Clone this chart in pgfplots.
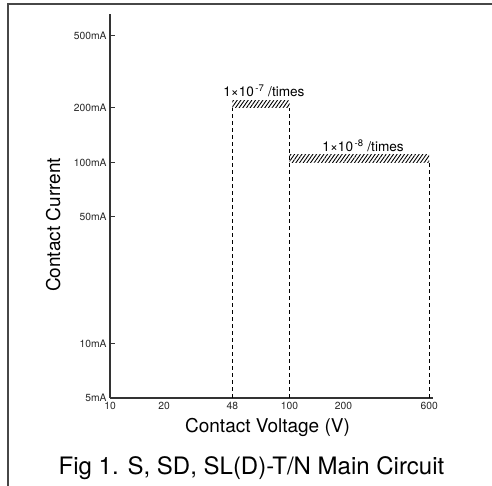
\documentclass[border=0pt]{standalone}
\usepackage{fontspec}
\setmainfont{TeX Gyre Heros}
\usepackage{pgfplots}
\pgfplotsset{compat=1.18}
\usetikzlibrary{patterns.meta}
\begin{document}
\begin{tikzpicture}[x=1pt,y=1pt]
\useasboundingbox (0,0) rectangle (492,486);
\draw[line width=2pt, black!72] (8,0) -- (8,482) -- (492,482);
\begin{axis}[at={(110pt,88pt)}, anchor=south west, scale only axis,
  width=323pt, height=384pt,
  xmode=log, ymode=log, xmin=10, xmax=630, ymin=5, ymax=660,
  axis x line=bottom, axis y line=left,
  axis line style={-, draw=black!80, line width=1.1pt},
  xtick={10,20,48,100,200,600}, xticklabels={10,20,48,100,200,600},
  ytick={5,10,50,100,200,500},
  yticklabels={5mA,10mA,50mA,100mA,200mA,500mA},
  xtick style={draw=none},
  ytick style={draw=black!80, line width=1pt},
  tick align=inside, major tick length=5pt,
  minor tick style={draw=none},
  tick label style={font=\fontsize{10.3}{12}\selectfont, text=black!85},
  xticklabel style={yshift=-0.5pt},
  clip=false]
% hatched bands
\addplot[draw=none, pattern={Lines[angle=55, distance=3pt, line width=0.9pt]}]
  coordinates {(48,200) (100,200) (100,220) (48,220) (48,200)};
\addplot[draw=none, pattern={Lines[angle=55, distance=3pt, line width=0.9pt]}]
  coordinates {(100,100) (600,100) (600,110) (100,110) (100,100)};
% dashed limits
\addplot[black, line width=0.9pt, dash pattern=on 4pt off 3pt] coordinates {(48,5) (48,200)};
\addplot[black, line width=0.9pt, dash pattern=on 4pt off 3pt] coordinates {(100,5) (100,200)};
\addplot[black, line width=0.9pt, dash pattern=on 4pt off 3pt] coordinates {(600,5) (600,100)};
\node[anchor=base, yshift=3.5pt, font=\fontsize{13.6}{15}\selectfont] at (axis cs:72,220) {1×10\textsuperscript{\,-7} /times};
\node[anchor=base, yshift=3.5pt, font=\fontsize{13.6}{15}\selectfont] at (axis cs:257,110) {1×10\textsuperscript{\,-8} /times};
\end{axis}
\node[anchor=base, font=\fontsize{19}{22}\selectfont] at (267.5,53.3) {Contact Voltage (V)};
\node[anchor=base, rotate=90, font=\fontsize{19}{22}\selectfont] at (60,261) {Contact Current};
\node[anchor=base, font=\fontsize{24}{28}\selectfont] at (251.5,11) {Fig 1. S, SD, SL(D)-T/N Main Circuit};
\end{tikzpicture}
\end{document}
